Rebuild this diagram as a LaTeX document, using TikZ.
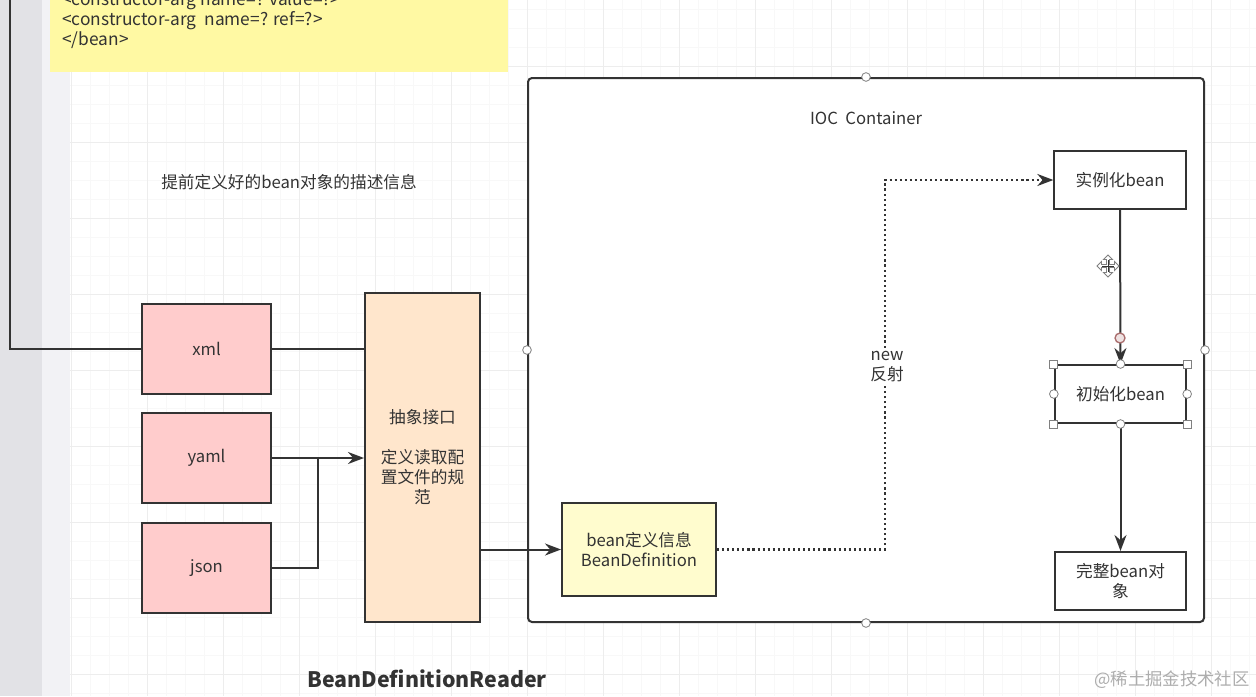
\documentclass[tikz,border=0pt]{standalone}
\usepackage{fontspec}
\setmainfont{Noto Sans CJK SC}
\usetikzlibrary{arrows.meta,calc}
\definecolor{srcpink}{RGB}{255,204,204}
\definecolor{readerorange}{RGB}{255,230,204}
\definecolor{defyellow}{RGB}{255,252,206}
\definecolor{noteyellow}{RGB}{255,249,163}
\definecolor{ink}{RGB}{51,51,51}
\definecolor{gridminor}{RGB}{248,248,248}
\definecolor{gridmajor}{RGB}{237,237,237}
\definecolor{sidegray}{RGB}{226,226,230}
\definecolor{sidelight}{RGB}{242,242,245}
\definecolor{handlered}{RGB}{170,110,110}

\begin{document}
\begin{tikzpicture}[x=0.75pt, y=-0.75pt, >={Stealth[length=12pt,width=9pt]},
    txt/.style={text=ink, font=\fontsize{12.5pt}{15pt}\selectfont},
    box/.style={txt, draw=ink, line width=1.5pt, align=center, inner sep=2pt},
    srcbox/.style={box, fill=srcpink, minimum width=96.75pt, minimum height=67.5pt},
    readerbox/.style={box, fill=readerorange, minimum width=86.25pt, minimum height=246.75pt},
    defbox/.style={box, fill=defyellow, minimum width=115.5pt, minimum height=69.75pt},
    stepbox/.style={box, fill=white, minimum width=98.5pt, minimum height=43.5pt},
    link/.style={draw=ink, line width=1.5pt},
    dotlink/.style={draw=ink, line width=1.6pt, dash pattern=on 1.6pt off 2.2pt},
    roundhandle/.style={circle, draw=gray, fill=white, line width=0.6pt, minimum size=6.5pt, inner sep=0pt},
    sqhandle/.style={rectangle, draw=gray, fill=white, line width=0.6pt, minimum size=6pt, inner sep=0pt}]
        \def\W{1256}
        \def\H{696}
        \useasboundingbox (0,0) rectangle (\W,\H);
        \clip (0,0) rectangle (\W,\H);

        % -- canvas: side strips and grid --
        \fill[white] (0,0) rectangle (\W,\H);
        \fill[sidegray] (0,0) rectangle (42,\H);
        \fill[sidelight] (42,0) rectangle (70,\H);
        \foreach \x in {71,90,...,1256}
            \draw[gridminor,line width=0.6pt] (\x,0) -- (\x,\H);
        \foreach \y in {9,28,...,696}
            \draw[gridminor,line width=0.6pt] (70,\y) -- (\W,\y);
        \foreach \x in {71,147,...,1256}
            \draw[gridmajor,line width=0.7pt] (\x,0) -- (\x,\H);
        \foreach \y in {66,142,...,696}
            \draw[gridmajor,line width=0.7pt] (70,\y) -- (\W,\y);

        % -- xml note at the top --
        \fill[noteyellow] (50,-5) rectangle (508,72);
        \node[txt, font=\fontsize{13pt}{15pt}\selectfont, anchor=north west, align=left, inner sep=0pt]
            (note) at (62,-9) {<constructor-arg name=? value=?>\\<constructor-arg\ \ name=? ref=?>\\</bean>};

        \node[txt] (hint) at (289,182) {提前定义好的bean对象的描述信息};

        % -- IOC container --
        \node[draw=ink, line width=1.5pt, fill=white, rounded corners=3pt,
              minimum width=507pt, minimum height=408pt] (ioc) at (866,350) {};
        \node[txt] (iocTitle) at (866,118) {IOC\ \ Container};

        % -- config sources and reader --
        \node[srcbox] (xml)  at (206.5,348.5) {xml};
        \node[srcbox] (yaml) at (206.5,458)   {yaml};
        \node[srcbox] (json) at (206.5,568)   {json};
        \node[readerbox] (reader) at (422.5,457.5) {抽象接口\\[15pt]定义读取配\\置文件的规\\范};
        \node[defbox] (beandef) at (639,549.5) {bean定义信息\\BeanDefinition};

        % -- bean life cycle --
        \node[stepbox] (inst) at (1120,180)   {实例化bean};
        \node[stepbox] (init) at (1120.5,394) {初始化bean};
        \node[stepbox] (full) at (1120.5,581) {完整bean对\\象};

        % -- connectors --
        \coordinate (feedtop) at (10,-5);
        \coordinate (merge) at (318,458);
        \coordinate (bendx) at (885,0);
        \draw[link] (xml.west) -| (feedtop);
        \draw[link] (xml.east) -- (reader.west |- xml.east);
        \draw[link,->] (yaml.east) -- (reader.west |- yaml.east);
        \draw[link] (json.east) -| (merge);
        \draw[link,->] (reader.east |- beandef.west) -- (beandef.west);
        \draw[dotlink,->] (beandef.east) -- (beandef.east -| bendx) |- (inst.west);
        \node[txt, fill=white, align=center, inner sep=1pt] (newlbl) at (887,367) {new\\反射};
        \draw[link,->] (inst.south) -- (init.north);
        \draw[link,->] (init.south) -- (full.north);

        % -- selection handles --
        \foreach \a in {north,south,east,west}
            \node[roundhandle] (ioc-\a) at (ioc.\a) {};
        \foreach \a in {north west,north east,south west,south east}
            \node[sqhandle] (init-\a) at (init.\a) {};
        \foreach \a in {north,south,east,west}
            \node[roundhandle] (init-\a) at (init.\a) {};
        \node[circle, draw=handlered, fill=handlered!20, line width=1pt, minimum size=7.5pt, inner sep=0pt]
            (edgeend) at (1120,338) {};

        % -- move cursor --
        \begin{scope}[shift={(1108,266)}]
            \filldraw[fill=white, draw=gray, line width=0.7pt]
                (0,-11) -- (4.5,-6.5) -- (1.5,-6.5) -- (1.5,-1.5) -- (6.5,-1.5) -- (6.5,-4.5) -- (11,0)
                -- (6.5,4.5) -- (6.5,1.5) -- (1.5,1.5) -- (1.5,6.5) -- (4.5,6.5) -- (0,11)
                -- (-4.5,6.5) -- (-1.5,6.5) -- (-1.5,1.5) -- (-6.5,1.5) -- (-6.5,4.5) -- (-11,0)
                -- (-6.5,-4.5) -- (-6.5,-1.5) -- (-1.5,-1.5) -- (-1.5,-6.5) -- (-4.5,-6.5) -- cycle;
            \draw[ink, line width=0.6pt] (0,-6) -- (0,6) (-6,0) -- (6,0);
        \end{scope}

        % -- titles --
        \node[txt, font=\bfseries\fontsize{16pt}{19pt}\selectfont] (readerTitle) at (427,679) {BeanDefinitionReader};
        \node[text=black!32, font=\fontsize{13pt}{15pt}\selectfont] (watermark) at (1172,680) {@稀土掘金技术社区};

    \end{tikzpicture}
\end{document}
